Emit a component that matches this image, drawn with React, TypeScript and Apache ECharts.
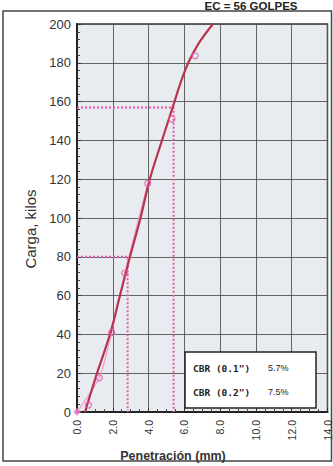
import React, { useEffect, useRef } from "react";
import * as echarts from "echarts";

const title = "EC = 56 GOLPES";
const xAxisName = "Penetración (mm)";
const yAxisName = "Carga, kilos";

// measured points (penetration mm, load kg)
const pointX = [0, 0.64, 1.25, 1.94, 2.67, 3.96, 5.31, 6.6];
const pointY = [0, 3.6, 17.6, 41, 71.6, 117.8, 151, 183.6];

// fitted (corrected) curve
const curveX = [0.45, 1.12, 1.84, 2.4, 2.96, 3.55, 4.07, 4.75, 5.45, 5.8, 6.22, 6.8, 7.6];
const curveY = [0, 20, 40, 60, 80, 100, 120, 140, 160, 170, 180, 190, 200];

// raw thin line
const rawX = [0, 1.25, 1.94, 2.67, 3.96];
const rawY = [0, 17.6, 41, 71.6, 117.8];

// CBR read lines
const cbr1X = [0, 2.83, 2.83];
const cbr1Y = [80, 80, 0];
const cbr2X = [0, 5.4, 5.4];
const cbr2Y = [157, 157, 0];

const cbrLabels = ['CBR (0.1")', 'CBR (0.2")'];
const cbrValues = ["5.7%", "7.5%"];

const zip = (a: number[], b: number[]) => a.map((v, i) => [v, b[i]]);

export default function App() {
  const ref = useRef<HTMLDivElement>(null);
  useEffect(() => {
    document.body.style.margin = "0";
    const chart = echarts.init(ref.current!, null, { renderer: "svg" });
    const pink = "#e35aa8";
    chart.setOption({
      animation: false,
      backgroundColor: "#ffffff",
      grid: {
        left: 77,
        top: 24,
        right: 5,
        bottom: 54,
        show: true,
        backgroundColor: "#e8ecf1",
        borderColor: "#333",
        borderWidth: 1.5,
      },
      xAxis: {
        type: "value",
        min: 0,
        max: 14,
        interval: 2,
        axisLine: { show: true, onZero: false, lineStyle: { color: "#222", width: 2 } },
        axisTick: { show: true, inside: true, length: 4, lineStyle: { color: "#333" } },
        minorTick: { show: true, splitNumber: 4, length: 3, lineStyle: { color: "#444" } },
        splitLine: { show: true, lineStyle: { color: "#555", width: 0.9 } },
        axisLabel: {
          rotate: 90,
          margin: 8,
          fontFamily: "Liberation Sans, Arial",
          fontSize: 10.5,
          color: "#333",
          formatter: (v: number) => v.toFixed(1),
        },
      },
      yAxis: {
        type: "value",
        min: 0,
        max: 200,
        interval: 20,
        axisLine: { show: true, onZero: false, lineStyle: { color: "#222", width: 2 } },
        axisTick: { show: true, inside: true, length: 4, lineStyle: { color: "#333" } },
        minorTick: { show: true, splitNumber: 5, length: 3, lineStyle: { color: "#444" } },
        splitLine: { show: true, lineStyle: { color: "#555", width: 0.9 } },
        axisLabel: {
          margin: 6,
          fontFamily: "Liberation Sans, Arial",
          fontSize: 13,
          color: "#333",
        },
      },
      series: [
        {
          type: "line",
          data: zip(cbr1X, cbr1Y),
          symbol: "none",
          lineStyle: { color: pink, width: 2, type: "dotted" },
          z: 2,
        },
        {
          type: "line",
          data: zip(cbr2X, cbr2Y),
          symbol: "none",
          lineStyle: { color: pink, width: 2, type: "dotted" },
          z: 2,
        },
        {
          type: "line",
          data: zip(rawX, rawY),
          symbol: "none",
          smooth: 0.2,
          lineStyle: { color: "#f29bc4", width: 1.2 },
          z: 3,
        },
        {
          type: "line",
          data: zip(curveX, curveY),
          symbol: "none",
          smooth: 0.4,
          lineStyle: { color: "#b8344f", width: 2.2 },
          z: 4,
        },
        {
          type: "scatter",
          data: zip(pointX, pointY).slice(1),
          symbol: "circle",
          symbolSize: 6,
          itemStyle: { color: "rgba(255,255,255,0)", borderColor: pink, borderWidth: 1.3 },
          z: 5,
        },
        {
          type: "scatter",
          data: zip(pointX, pointY).slice(0, 1),
          symbol: "diamond",
          symbolSize: 8,
          itemStyle: { color: "#f07cc4" },
          z: 5,
        },
      ],
      graphic: [
        {
          type: "rect",
          shape: { x: 3, y: 11, width: 328.5, height: 450 },
          style: { fill: "none", stroke: "#444", lineWidth: 1.5 },
          z: 0,
          silent: true,
        },
        {
          type: "text",
          x: 251,
          y: 5.5,
          style: {
            text: title,
            fontFamily: "Liberation Sans, Arial",
            fontWeight: "bold",
            fontSize: 11.5,
            fill: "#222",
            align: "center",
            verticalAlign: "middle",
          },
        },
        {
          type: "text",
          x: 30,
          y: 229,
          rotation: Math.PI / 2,
          style: {
            text: yAxisName,
            fontFamily: "Liberation Sans, Arial",
            fontSize: 15,
            fill: "#333",
            align: "center",
            verticalAlign: "middle",
          },
        },
        {
          type: "text",
          x: 173,
          y: 456,
          style: {
            text: xAxisName,
            fontFamily: "Liberation Sans, Arial",
            fontWeight: "bold",
            fontSize: 12.5,
            fill: "#333",
            align: "center",
            verticalAlign: "middle",
          },
        },
        {
          type: "rect",
          z: 100,
          shape: { x: 185, y: 352, width: 131, height: 56 },
          style: { fill: "#ffffff", stroke: "#222", lineWidth: 1.5 },
        },
        ...cbrLabels.map((t, i) => ({
          type: "text",
          z: 101,
          x: 193,
          y: 368 + i * 24,
          style: {
            text: t,
            fontFamily: "DejaVu Sans Mono",
            fontWeight: "bold",
            fontSize: 9.5,
            fill: "#222",
            align: "left",
            verticalAlign: "middle",
          },
        })),
        ...cbrValues.map((t, i) => ({
          type: "text",
          z: 101,
          x: 268,
          y: 368 + i * 24,
          style: {
            text: t,
            fontFamily: "Liberation Sans, Arial",
            fontSize: 9,
            fill: "#222",
            align: "left",
            verticalAlign: "middle",
          },
        })),
      ],
    });
    return () => chart.dispose();
  }, []);
  return <div ref={ref} style={{ width: 333, height: 466 }} />;
}
